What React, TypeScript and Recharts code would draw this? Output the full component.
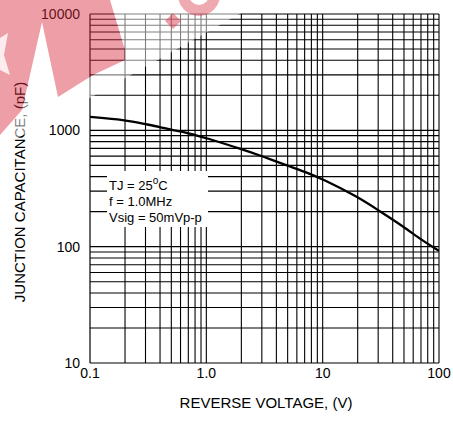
import React from 'react';
import { LineChart, Line, XAxis, YAxis, ReferenceLine } from 'recharts';

const voltage = [0.1, 0.2, 0.3, 0.4, 0.5, 0.7, 1, 2, 3, 5, 7, 10, 20, 30, 50, 70, 100];
const capacitance = [1305, 1228, 1130, 1067, 1010, 948, 860, 690, 601, 497, 441, 381, 268, 206, 148, 115, 92];

const xTicks = [0.1, 1, 10, 100];
const xTickLabels = ['0.1', '1.0', '10', '100'];
const yTicks = [10, 100, 1000, 10000];
const yTickLabels = ['10', '100', '1000', '10000'];

const xGrid = [0.2, 0.3, 0.4, 0.5, 0.6, 0.7, 0.8, 0.9, 1, 2, 3, 4, 5, 6, 7, 8, 9, 10, 20, 30, 40, 50, 60, 70, 80, 90, 100];
const yGrid = [20, 30, 40, 50, 60, 70, 80, 90, 100, 200, 300, 400, 500, 600, 700, 800, 900, 1000, 2000, 3000, 4000, 5000, 6000, 7000, 8000, 9000, 10000];

const data = voltage.map((v, i) => ({ v, c: capacitance[i] }));

const FONT = '"Liberation Sans", Arial, sans-serif';

export default function App() {
  return (
    <div style={{ position: 'absolute', left: 0, top: 0, width: 453, height: 424, background: '#fff', fontFamily: FONT }}>
      <LineChart width={453} height={424} data={data} margin={{ top: 14, right: 14, bottom: 0, left: 0 }}>
        <XAxis
          dataKey="v"
          type="number"
          scale="log"
          domain={[0.1, 100]}
          ticks={xTicks}
          interval={0}
          allowDataOverflow
          tickFormatter={(v: number) => xTickLabels[xTicks.indexOf(v)] ?? String(v)}
          tickLine={false}
          axisLine={{ stroke: '#000', strokeWidth: 1.2 }}
          height={61}
          tickSize={5}
          tickMargin={0}
          tick={{ fill: '#000', fontSize: 14, fontFamily: FONT }}
        />
        <YAxis
          type="number"
          scale="log"
          domain={[10, 10000]}
          ticks={yTicks}
          interval={0}
          allowDataOverflow
          tickFormatter={(v: number) => yTickLabels[yTicks.indexOf(v)] ?? String(v)}
          tickLine={false}
          axisLine={{ stroke: '#000', strokeWidth: 1.2 }}
          width={90}
          tickSize={8}
          tickMargin={2}
          tick={{ fill: '#000', fontSize: 14, fontFamily: FONT }}
        />
        {xGrid.map((x) => (
          <ReferenceLine key={'x' + x} x={x} stroke="#000" strokeWidth={1.1} />
        ))}
        {yGrid.map((y) => (
          <ReferenceLine key={'y' + y} y={y} stroke="#000" strokeWidth={1.1} />
        ))}
        <Line type="basis" dataKey="c" stroke="#000" strokeWidth={2.3} dot={false} isAnimationActive={false} />
      </LineChart>
      <svg width={453} height={424} style={{ position: 'absolute', left: 0, top: 0, pointerEvents: 'none' }}>
        <rect x={107} y={171} width={101} height={56} fill="#fff" />
        <text x={109} y={190} fontSize={13} fontFamily={FONT} fill="#000">
          TJ = 25<tspan dy={-6} fontSize={10}>o</tspan><tspan dy={6}>C</tspan>
        </text>
        <text x={109} y={206} fontSize={13} fontFamily={FONT} fill="#000">f = 1.0MHz</text>
        <text x={109} y={222} fontSize={13} fontFamily={FONT} fill="#000">Vsig = 50mVp-p</text>
        <text x={266} y={408} fontSize={15} textAnchor="middle" fontFamily={FONT} fill="#000">REVERSE VOLTAGE, (V)</text>
        <text transform="translate(25,192) rotate(-90)" fontSize={15} textAnchor="middle" fontFamily={FONT} fill="#000">
          JUNCTION CAPACITANCE, (pF)
        </text>
        <polygon
          points="110,0 250,0 250,8 90,98 0,148 0,135 22,110 42,22 58,97 93,75 125,60 125,50"
          fill="#fff"
          fillOpacity={0.5}
        />
        <polygon
          points="0,0 110,0 125,50 125,60 93,75 58,97 42,22 22,110 0,135"
          fill="#d8283c"
          fillOpacity={0.45}
        />
        <polygon points="0,38 8,33 4,55 10,75 0,70" fill="#fff" fillOpacity={0.8} />
        <polygon points="173,13 181,21 173,29 165,21" fill="#d8283c" fillOpacity={0.45} />
        <circle cx={199} cy={-5} r={15.5} fill="none" stroke="#d8283c" strokeOpacity={0.4} strokeWidth={11} />
      </svg>
    </div>
  );
}
